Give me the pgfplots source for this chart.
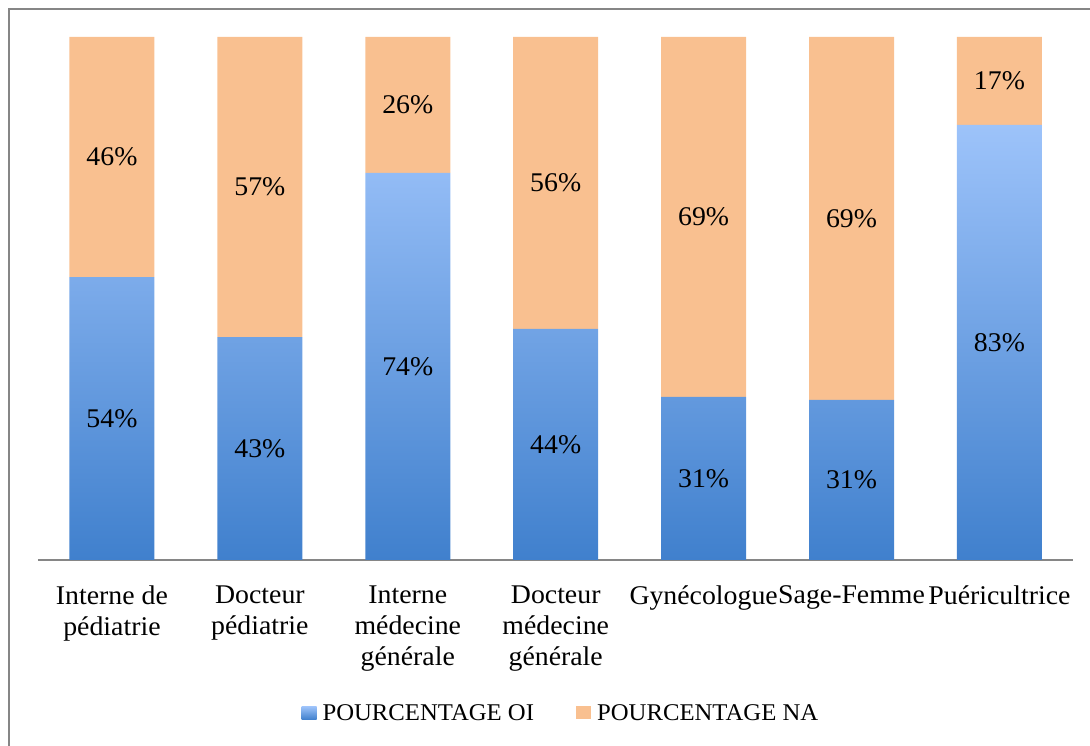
\documentclass[border=0pt]{standalone}
\usepackage{pgfplots}
\pgfplotsset{compat=1.18}
\usepackage{fontspec}
\setmainfont{Liberation Serif}[FakeStretch=1.03]

\definecolor{oitop}{HTML}{9DC3FA}
\definecolor{oibot}{HTML}{4080CD}
\definecolor{naorange}{HTML}{F9C090}
\definecolor{framegray}{HTML}{868686}

\newcommand{\bigfont}{\fontsize{27}{31}\selectfont}
\newcommand{\legfont}{\fontsize{24}{28}\selectfont}

\begin{document}
\begin{tikzpicture}[font=\bigfont]
\useasboundingbox (-38pt,-186pt) rectangle (1052pt,560pt);
\clip (-38pt,-186pt) rectangle (1052pt,560pt);
\draw[framegray, line width=2pt] (-29pt,-220pt) rectangle (1080pt,551pt);
\begin{axis}[
    at={(0pt,0pt)}, anchor=south west,
    scale only axis,
    width=1035.5pt, height=523pt,
    ybar stacked,
    bar width=85pt,
    xmin=-0.5, xmax=6.5,
    ymin=0, ymax=100,
    axis x line=bottom, axis y line=none,
    x axis line style={-, framegray, line width=2pt},
    xtick={0,1,2,3,4,5,6},
    xticklabels={{Interne de\\pédiatrie}, {Docteur\\pédiatrie}, {Interne\\médecine\\générale}, {Docteur\\médecine\\générale}, Gynécologue, Sage-Femme, Puéricultrice},
    xticklabel style={align=center, font=\bigfont, yshift=-20pt},
    xtick style={draw=none},
    ytick=\empty,
    /pgf/number format/assume math mode=true,
    point meta=explicit,
    nodes near coords={\pgfmathprintnumber[fixed,precision=0]{\pgfplotspointmeta}\%},
    every node near coord/.append style={font=\bigfont, text=black, anchor=center},
    legend image code/.code={\draw[#1, draw=none] (0pt,-6.5pt) rectangle (15pt,6.5pt);},
    legend style={at={(axis description cs:0.505,-0.2925)}, anchor=center, draw=none, fill=none,
        legend columns=2, font=\legfont,
        /tikz/every odd column/.append style={column sep=4pt},
        /tikz/every even column/.append style={column sep=40pt}},
]
% percentages
\addplot[draw=none, top color=oitop, bottom color=oibot]
    table[x=x, y=oi, meta=oi] {
x oi
0 54.1
1 42.6
2 74.0
3 44.2
4 31.2
5 30.6
6 83.2
};
\addplot[draw=none, fill=naorange]
    table[x=x, y=na, meta=na] {
x na
0 45.9
1 57.4
2 26.0
3 55.8
4 68.8
5 69.4
6 16.8
};
\legend{POURCENTAGE OI, POURCENTAGE NA}
\end{axis}
\end{tikzpicture}
\end{document}
